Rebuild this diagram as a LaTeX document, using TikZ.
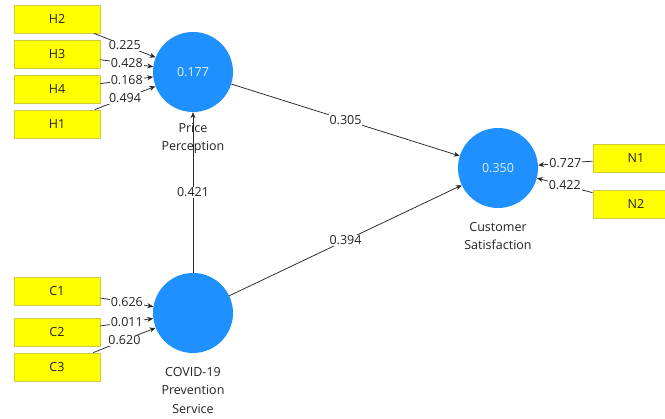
\documentclass[tikz,border=0pt]{standalone}
\usepackage{fontspec}
\setmainfont{Open Sans}
\usetikzlibrary{arrows.meta}
\definecolor{lvblue}{RGB}{30,144,255}
\definecolor{mvyellow}{RGB}{255,255,0}
\definecolor{mvborder}{RGB}{205,205,60}
\definecolor{txt}{RGB}{35,35,35}
\definecolor{edgec}{RGB}{40,40,40}
\definecolor{lvtext}{RGB}{225,240,255}
\begin{document}
\begin{tikzpicture}[x=1pt,y=-1pt,
  font=\fontsize{12.5}{14}\selectfont,
  latent/.style={circle, fill=lvblue, minimum size=80pt, inner sep=0pt, text=lvtext},
  ind/.style={rectangle, fill=mvyellow, draw=mvborder, line width=0.8pt,
    minimum width=86pt, minimum height=28pt, inner sep=0pt, text=txt},
  pathc/.style={draw=edgec, line width=0.75pt, -{Stealth[length=6pt,width=5pt]}},
  wt/.style={fill=white, inner sep=1pt, text=txt},
  lvname/.style={align=center, text=txt, inner sep=0pt, anchor=north,
    font=\fontsize{12.5}{18.5}\selectfont}]
\useasboundingbox (0,0) rectangle (665,419);
\clip (0,0) rectangle (665,419);
\fill[white] (0,0) rectangle (665,419);

% latent variables
\node[latent] (pp) at (193,72) {0.177};
\node[latent] (cs) at (498,168) {0.350};
\node[latent] (cv) at (193,313) {};

\node[lvname] (ppl) at (193,123) {Price\\Perception};
\node[lvname] (csl) at (498,222) {Customer\\Satisfaction};
\node[lvname] (cvl) at (193,367) {COVID-19\\Prevention\\Service};

% indicators
\node[ind] (h2) at (57,19) {H2};
\node[ind] (h3) at (57,54) {H3};
\node[ind] (h4) at (57,89) {H4};
\node[ind] (h1) at (57,124) {H1};
\node[ind] (c1) at (57,291) {C1};
\node[ind] (c2) at (57,332) {C2};
\node[ind] (c3) at (57,367) {C3};
\node[ind] (n1) at (636,158) {N1};
\node[ind] (n2) at (636,204) {N2};

% outer loadings
\draw[pathc] (h2) -- node[wt] {0.225} (pp);
\draw[pathc] (h3) -- node[wt] {0.428} (pp);
\draw[pathc] (h4) -- node[wt] {0.168} (pp);
\draw[pathc] (h1) -- node[wt] {0.494} (pp);
\draw[pathc] (c1) -- node[wt] {0.626} (cv);
\draw[pathc] (c2) -- node[wt] {0.011} (cv);
\draw[pathc] (c3) -- node[wt] {0.620} (cv);
\draw[pathc] (n1) -- node[wt] {0.727} (cs);
\draw[pathc] (n2) -- node[wt] {0.422} (cs);

% structural paths
\draw[pathc] (pp) -- node[wt] {0.305} (cs);
\draw[pathc] (cv) -- node[wt] {0.421} (pp);
\draw[pathc] (cv) -- node[wt] {0.394} (cs);
\end{tikzpicture}
\end{document}
